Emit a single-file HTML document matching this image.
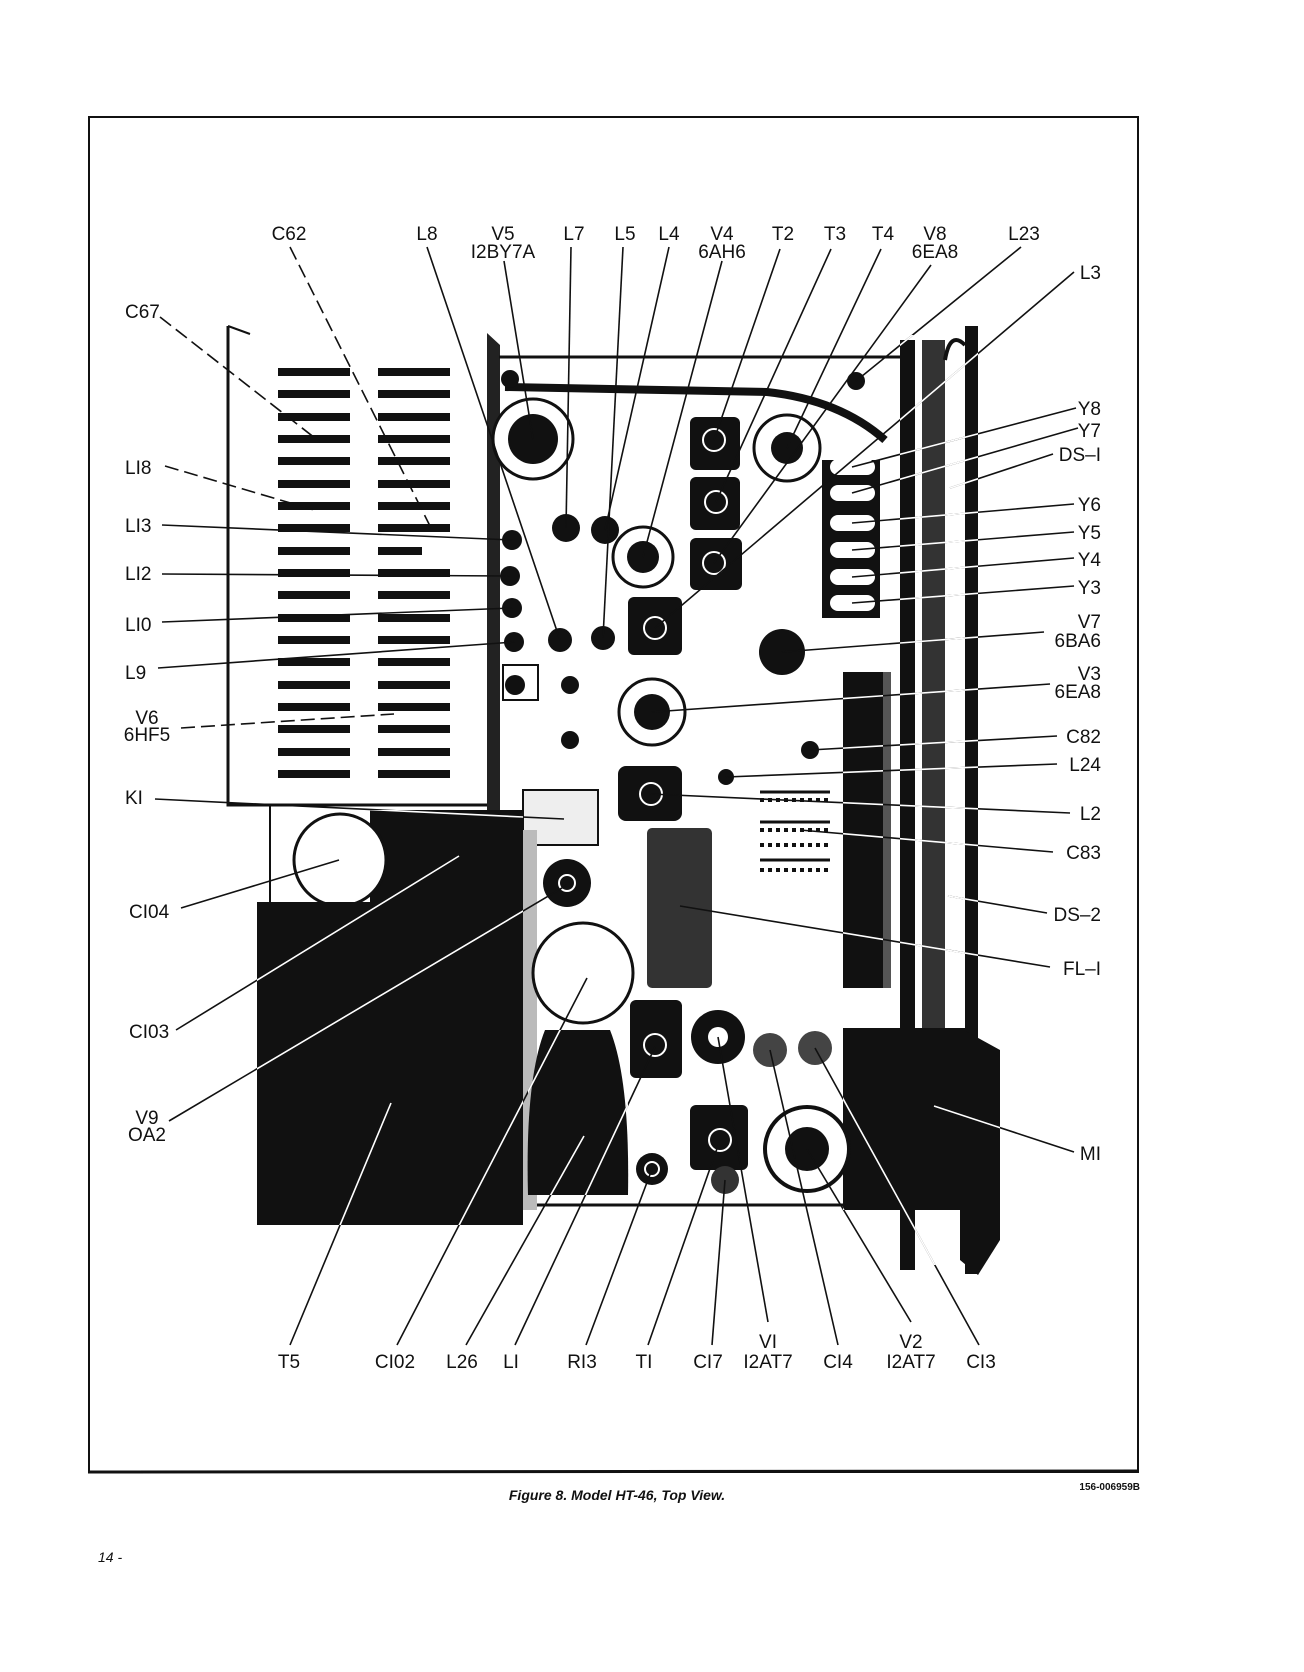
<!DOCTYPE html>
<html><head><meta charset="utf-8"><style>
html,body{margin:0;padding:0;background:#fff}
svg{display:block}
.l{font-family:"Liberation Sans",sans-serif;font-size:19px;fill:#111}
</style></head><body>
<svg width="1304" height="1672" viewBox="0 0 1304 1672" xmlns="http://www.w3.org/2000/svg">
<defs>
<clipPath id="dark">
<rect x="257" y="902" width="266" height="323"/>
<rect x="370" y="810" width="153" height="92"/>
<rect x="528" y="1030" width="100" height="165"/>
<rect x="843" y="1028" width="157" height="182"/>
<rect x="843" y="672" width="40" height="316"/>
<rect x="900" y="335" width="78" height="930"/>
</clipPath>
</defs>
<rect x="89" y="117" width="1049" height="1355" fill="none" stroke="#111" stroke-width="2"/>
<line x1="88" y1="1472" x2="1139" y2="1471" stroke="#111" stroke-width="3"/>
<path d="M228 326 L228 805 L500 805" fill="none" stroke="#111" stroke-width="3"/>
<path d="M228 326 L250 334" stroke="#111" stroke-width="2"/>
<g fill="#111">
<rect x="278" y="368" width="72" height="8"/><rect x="378" y="368" width="72" height="8"/>
<rect x="278" y="390" width="72" height="8"/><rect x="378" y="390" width="72" height="8"/>
<rect x="278" y="413" width="72" height="8"/><rect x="378" y="413" width="72" height="8"/>
<rect x="278" y="435" width="72" height="8"/><rect x="378" y="435" width="72" height="8"/>
<rect x="278" y="457" width="72" height="8"/><rect x="378" y="457" width="72" height="8"/>
<rect x="278" y="480" width="72" height="8"/><rect x="378" y="480" width="72" height="8"/>
<rect x="278" y="502" width="72" height="8"/><rect x="378" y="502" width="72" height="8"/>
<rect x="278" y="524" width="72" height="8"/><rect x="378" y="524" width="72" height="8"/>
<rect x="278" y="547" width="72" height="8"/><rect x="378" y="547" width="44" height="8"/>
<rect x="278" y="569" width="72" height="8"/><rect x="378" y="569" width="72" height="8"/>
<rect x="278" y="591" width="72" height="8"/><rect x="378" y="591" width="72" height="8"/>
<rect x="278" y="614" width="72" height="8"/><rect x="378" y="614" width="72" height="8"/>
<rect x="278" y="636" width="72" height="8"/><rect x="378" y="636" width="72" height="8"/>
<rect x="278" y="658" width="72" height="8"/><rect x="378" y="658" width="72" height="8"/>
<rect x="278" y="681" width="72" height="8"/><rect x="378" y="681" width="72" height="8"/>
<rect x="278" y="703" width="72" height="8"/><rect x="378" y="703" width="72" height="8"/>
<rect x="278" y="725" width="72" height="8"/><rect x="378" y="725" width="72" height="8"/>
<rect x="278" y="748" width="72" height="8"/><rect x="378" y="748" width="72" height="8"/>
<rect x="278" y="770" width="72" height="8"/><rect x="378" y="770" width="72" height="8"/>
</g>
<polygon points="487,333 500,345 500,1180 487,1180" fill="#222"/>
<line x1="499" y1="357" x2="900" y2="357" stroke="#111" stroke-width="3"/>
<line x1="522" y1="1205" x2="900" y2="1205" stroke="#111" stroke-width="3"/>
<path d="M505 387 L767 392 Q840 400 885 440" fill="none" stroke="#111" stroke-width="8"/>
<circle cx="510" cy="379" r="9" fill="#111"/>
<circle cx="533" cy="439" r="40" fill="#fff" stroke="#111" stroke-width="3"/>
<circle cx="533" cy="439" r="25" fill="#111"/>
<rect x="690" y="417" width="50" height="53" rx="6" fill="#111"/>
<rect x="690" y="477" width="50" height="53" rx="6" fill="#111"/>
<rect x="690" y="538" width="52" height="52" rx="6" fill="#111"/>
<g fill="none" stroke="#fff" stroke-width="2"><circle cx="714" cy="440" r="11"/><circle cx="716" cy="502" r="11"/><circle cx="714" cy="563" r="11"/></g>
<circle cx="787" cy="448" r="33" fill="#fff" stroke="#111" stroke-width="3"/>
<circle cx="787" cy="448" r="16" fill="#111"/>
<circle cx="643" cy="557" r="30" fill="#fff" stroke="#111" stroke-width="3"/>
<circle cx="643" cy="557" r="16" fill="#111"/>
<rect x="628" y="597" width="54" height="58" rx="6" fill="#111"/>
<circle cx="655" cy="628" r="11" fill="none" stroke="#fff" stroke-width="2"/>
<circle cx="856" cy="381" r="9" fill="#111"/>
<g fill="#111"><circle cx="512" cy="540" r="10"/><circle cx="510" cy="576" r="10"/><circle cx="512" cy="608" r="10"/><circle cx="514" cy="642" r="10"/>
<circle cx="566" cy="528" r="14"/><circle cx="605" cy="530" r="14"/><circle cx="560" cy="640" r="12"/><circle cx="603" cy="638" r="12"/>
<circle cx="515" cy="685" r="10"/><circle cx="570" cy="685" r="9"/><circle cx="570" cy="740" r="9"/></g>
<rect x="503" y="665" width="35" height="35" fill="none" stroke="#111" stroke-width="2"/>
<rect x="822" y="460" width="58" height="158" fill="#111"/>
<g fill="#fff"><rect x="830" y="459" width="45" height="16" rx="8"/><rect x="830" y="485" width="45" height="16" rx="8"/><rect x="830" y="515" width="45" height="16" rx="8"/><rect x="830" y="542" width="45" height="16" rx="8"/><rect x="830" y="569" width="45" height="16" rx="8"/><rect x="830" y="595" width="45" height="16" rx="8"/></g>
<rect x="900" y="340" width="15" height="930" fill="#111"/>
<rect x="922" y="340" width="23" height="700" fill="#333"/>
<rect x="965" y="326" width="13" height="948" fill="#111"/>
<path d="M945 360 Q950 330 965 345" fill="none" stroke="#111" stroke-width="4"/>
<rect x="843" y="672" width="40" height="316" fill="#111"/>
<rect x="883" y="672" width="8" height="316" fill="#555"/>
<rect x="843" y="1028" width="125" height="182" fill="#111"/>
<polygon points="960,1028 1000,1050 1000,1240 978,1275 960,1260" fill="#111"/>
<circle cx="782" cy="652" r="23" fill="#111"/>
<circle cx="652" cy="712" r="33" fill="#fff" stroke="#111" stroke-width="3"/>
<circle cx="652" cy="712" r="18" fill="#111"/>
<circle cx="810" cy="750" r="9" fill="#111"/><circle cx="726" cy="777" r="8" fill="#111"/>
<rect x="618" y="766" width="64" height="55" rx="8" fill="#111"/>
<circle cx="651" cy="794" r="11" fill="none" stroke="#fff" stroke-width="2"/>
<rect x="523" y="790" width="75" height="55" fill="#eee" stroke="#111" stroke-width="2"/>
<g stroke="#111" stroke-width="3">
<line x1="760" y1="792" x2="830" y2="792"/><line x1="760" y1="822" x2="830" y2="822"/><line x1="760" y1="860" x2="830" y2="860"/>
</g>
<g stroke="#111" stroke-width="4" stroke-dasharray="4 4"><line x1="760" y1="800" x2="830" y2="800"/><line x1="760" y1="830" x2="830" y2="830"/><line x1="760" y1="845" x2="830" y2="845"/><line x1="760" y1="870" x2="830" y2="870"/></g>
<rect x="647" y="828" width="65" height="160" rx="5" fill="#333"/>
<rect x="370" y="810" width="153" height="92" fill="#111"/>
<line x1="270" y1="805" x2="270" y2="902" stroke="#111" stroke-width="2"/>
<circle cx="340" cy="860" r="46" fill="#fff" stroke="#111" stroke-width="3"/>
<rect x="257" y="902" width="266" height="323" fill="#111"/>
<rect x="523" y="830" width="14" height="380" fill="#bbb"/>
<circle cx="567" cy="883" r="24" fill="#111"/>
<circle cx="567" cy="883" r="8" fill="none" stroke="#fff" stroke-width="2"/>
<circle cx="583" cy="973" r="50" fill="#fff" stroke="#111" stroke-width="3"/>
<path d="M545 1030 L610 1030 Q630 1080 628 1195 L528 1195 Q525 1080 545 1030 Z" fill="#111"/>
<rect x="630" y="1000" width="52" height="78" rx="6" fill="#111"/>
<circle cx="655" cy="1045" r="11" fill="none" stroke="#fff" stroke-width="2"/>
<circle cx="718" cy="1037" r="27" fill="#111"/><circle cx="718" cy="1037" r="10" fill="#fff"/>
<circle cx="770" cy="1050" r="17" fill="#444"/><circle cx="815" cy="1048" r="17" fill="#444"/>
<rect x="690" y="1105" width="58" height="65" rx="6" fill="#111"/>
<circle cx="720" cy="1140" r="11" fill="none" stroke="#fff" stroke-width="2"/>
<circle cx="725" cy="1180" r="14" fill="#333"/>
<circle cx="652" cy="1169" r="16" fill="#111"/><circle cx="652" cy="1169" r="7" fill="none" stroke="#fff" stroke-width="2"/>
<circle cx="807" cy="1149" r="42" fill="#fff" stroke="#111" stroke-width="4"/>
<circle cx="807" cy="1149" r="22" fill="#111"/>
<g id="leads" stroke-width="1.6" fill="none">
<line x1="290" y1="247" x2="432" y2="530" stroke-dasharray="14 6"/>
<line x1="160" y1="317" x2="320" y2="442" stroke-dasharray="14 6"/>
<line x1="165" y1="466" x2="314" y2="510" stroke-dasharray="14 6"/>
<line x1="181" y1="728" x2="394" y2="714" stroke-dasharray="14 6"/>
<line x1="162" y1="525" x2="512" y2="540"/>
<line x1="162" y1="574" x2="510" y2="576"/>
<line x1="162" y1="622" x2="512" y2="608"/>
<line x1="158" y1="668" x2="514" y2="642"/>
<line x1="155" y1="799" x2="564" y2="819"/>
<line x1="181" y1="908" x2="339" y2="860"/>
<line x1="176" y1="1030" x2="459" y2="856"/>
<line x1="169" y1="1121" x2="567" y2="885"/>
<line x1="290" y1="1345" x2="391" y2="1103"/>
<line x1="397" y1="1345" x2="587" y2="978"/>
<line x1="466" y1="1345" x2="584" y2="1136"/>
<line x1="515" y1="1345" x2="655" y2="1047"/>
<line x1="586" y1="1345" x2="652" y2="1169"/>
<line x1="648" y1="1345" x2="720" y2="1140"/>
<line x1="712" y1="1345" x2="725" y2="1180"/>
<line x1="768" y1="1322" x2="718" y2="1037"/>
<line x1="838" y1="1345" x2="770" y2="1050"/>
<line x1="911" y1="1322" x2="807" y2="1149"/>
<line x1="979" y1="1345" x2="815" y2="1048"/>
<line x1="427" y1="247" x2="560" y2="640"/>
<line x1="504" y1="261" x2="533" y2="439"/>
<line x1="571" y1="247" x2="566" y2="528"/>
<line x1="623" y1="247" x2="603" y2="638"/>
<line x1="669" y1="247" x2="605" y2="530"/>
<line x1="722" y1="261" x2="643" y2="557"/>
<line x1="780" y1="249" x2="714" y2="440"/>
<line x1="831" y1="249" x2="716" y2="502"/>
<line x1="881" y1="249" x2="787" y2="448"/>
<line x1="931" y1="265" x2="714" y2="563"/>
<line x1="1021" y1="247" x2="856" y2="381"/>
<line x1="1074" y1="272" x2="655" y2="628"/>
<line x1="1076" y1="408" x2="852" y2="467"/>
<line x1="1078" y1="428" x2="852" y2="493"/>
<line x1="1053" y1="454" x2="950" y2="488"/>
<line x1="1074" y1="504" x2="852" y2="523"/>
<line x1="1074" y1="532" x2="852" y2="550"/>
<line x1="1074" y1="558" x2="852" y2="577"/>
<line x1="1074" y1="586" x2="852" y2="603"/>
<line x1="1044" y1="632" x2="782" y2="652"/>
<line x1="1050" y1="684" x2="652" y2="712"/>
<line x1="1057" y1="736" x2="810" y2="750"/>
<line x1="1057" y1="764" x2="726" y2="777"/>
<line x1="1070" y1="813" x2="651" y2="794"/>
<line x1="1053" y1="852" x2="800" y2="830"/>
<line x1="1047" y1="913" x2="948" y2="896"/>
<line x1="1050" y1="967" x2="680" y2="906"/>
<line x1="1074" y1="1152" x2="934" y2="1106"/>
</g>
<g stroke="#111"><use href="#leads"/></g>
<g stroke="#fff" clip-path="url(#dark)"><use href="#leads"/></g>
<g class="l" text-anchor="middle">
<text x="289" y="240">C62</text><text x="427" y="240">L8</text>
<text x="503" y="240">V5</text><text x="503" y="258">I2BY7A</text>
<text x="574" y="240">L7</text><text x="625" y="240">L5</text><text x="669" y="240">L4</text>
<text x="722" y="240">V4</text><text x="722" y="258">6AH6</text>
<text x="783" y="240">T2</text><text x="835" y="240">T3</text><text x="883" y="240">T4</text>
<text x="935" y="240">V8</text><text x="935" y="258">6EA8</text>
<text x="1024" y="240">L23</text>
<text x="289" y="1368">T5</text><text x="395" y="1368">CI02</text><text x="462" y="1368">L26</text>
<text x="511" y="1368">LI</text><text x="582" y="1368">RI3</text><text x="644" y="1368">TI</text>
<text x="708" y="1368">CI7</text><text x="768" y="1348">VI</text><text x="768" y="1368">I2AT7</text>
<text x="838" y="1368">CI4</text><text x="911" y="1348">V2</text><text x="911" y="1368">I2AT7</text>
<text x="981" y="1368">CI3</text>
<text x="147" y="724">V6</text><text x="147" y="741">6HF5</text>
<text x="147" y="1124">V9</text><text x="147" y="1141">OA2</text>
</g>
<g class="l">
<text x="125" y="318">C67</text><text x="125" y="474">LI8</text><text x="125" y="532">LI3</text>
<text x="125" y="580">LI2</text><text x="125" y="631">LI0</text><text x="125" y="679">L9</text>
<text x="125" y="804">KI</text><text x="129" y="918">CI04</text><text x="129" y="1038">CI03</text>
</g>
<g class="l" text-anchor="end">
<text x="1101" y="279">L3</text><text x="1101" y="415">Y8</text><text x="1101" y="437">Y7</text>
<text x="1101" y="461">DS–I</text><text x="1101" y="511">Y6</text><text x="1101" y="539">Y5</text>
<text x="1101" y="566">Y4</text><text x="1101" y="594">Y3</text>
<text x="1101" y="628">V7</text><text x="1101" y="647">6BA6</text>
<text x="1101" y="680">V3</text><text x="1101" y="698">6EA8</text>
<text x="1101" y="743">C82</text><text x="1101" y="771">L24</text><text x="1101" y="820">L2</text>
<text x="1101" y="859">C83</text><text x="1101" y="921">DS–2</text><text x="1101" y="975">FL–I</text>
<text x="1101" y="1160">MI</text>
</g>
<text x="617" y="1500" text-anchor="middle" font-family="Liberation Sans, sans-serif" font-size="14" font-style="italic" font-weight="bold" fill="#111">Figure 8.  Model HT-46, Top View.</text>
<text x="1140" y="1490" text-anchor="end" font-family="Liberation Sans, sans-serif" font-size="10" font-weight="bold" fill="#111">156-006959B</text>
<text x="98" y="1562" font-family="Liberation Sans, sans-serif" font-size="14" font-style="italic" fill="#111">14 -</text>
</svg>
</body></html>
